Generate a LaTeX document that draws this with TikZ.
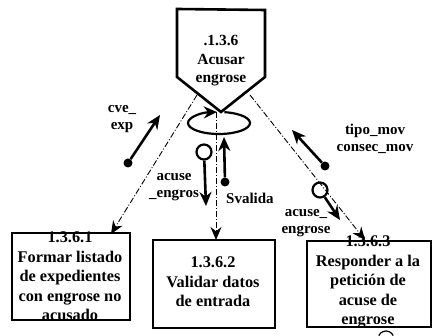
\documentclass[tikz,border=0pt]{standalone}
\usepackage{fontspec}
\setmainfont{Liberation Serif}
\usetikzlibrary{arrows.meta}
\begin{document}
\begin{tikzpicture}[x=1pt,y=-1pt,
 every node/.style={font=\fontsize{16.3}{19.5}\selectfont\bfseries},
 boxs/.style={draw, line width=2.4pt, inner sep=0},
 txt/.style={align=center, inner sep=0},
 dfl/.style={line width=0.9pt, dash pattern=on 6pt off 2pt on 1pt off 2pt, -{Stealth[length=13pt,width=11pt]}},
 flow/.style={line width=2.6pt, -{Stealth[length=14pt,width=12pt]}},
 lab/.style={align=center, inner sep=0, font=\fontsize{15}{17.5}\selectfont\bfseries},
 dotn/.style={circle, fill, inner sep=0, minimum size=9pt},
 ringn/.style={circle, draw, line width=2.2pt, inner sep=0, minimum size=15pt}]
\useasboundingbox (0,0) rectangle (434,336);
% top process (pentagon)
\coordinate (ptl) at (177,9);
\coordinate (ptr) at (265,10);
\coordinate (prr) at (265,77);
\coordinate (pb) at (221,112);
\coordinate (pll) at (177,77);
\draw[line width=2.6pt, line join=miter] (ptl) -- (ptr) -- (prr) -- (pb) -- (pll) -- cycle;
\node[txt, font=\fontsize{15.5}{18.5}\selectfont\bfseries] (pt) at (221,61) {.1.3.6\\Acusar\\engrose};
% boxes
\node[boxs, minimum width=118pt, minimum height=87pt] (b1) at (71,276.5) {};
\node[txt] (b1t) at (70,276.5) {1.3.6.1\\Formar listado\\de expedientes\\con engrose no\\acusado};
\node[boxs, minimum width=122pt, minimum height=88pt] (b2) at (214,284) {};
\node[txt] (b2t) at (213,282) {1.3.6.2\\Validar datos\\de entrada};
\node[boxs, minimum width=124pt, minimum height=86pt] (b3) at (369,284) {};
\node[txt] (b3t) at (368,282) {1.3.6.3\\Responder a la\\petición de\\acuse de\\engrose};
% dashed connectors
\coordinate (a1) at (197,95);
\coordinate (a1e) at (111,234);
\coordinate (a2) at (216,112);
\coordinate (a2e) at (216,240);
\coordinate (a3) at (250,95);
\coordinate (a3e) at (365,240);
\draw[dfl] (a1) -- (a1e);
\draw[dfl] (a2) -- (a2e);
\draw[dfl] (a3) -- (a3e);
% loop
\coordinate (lc) at (219,123);
\draw[line width=2.2pt, -{Stealth[length=13pt,width=12pt]}] ([shift={(-80:31 and 11)}]lc) arc[start angle=-80, end angle=266, x radius=31, y radius=11];
% flows
\node[dotn] (c1) at (128,163) {};
\coordinate (c1e) at (160,115);
\draw[flow] (c1) -- (c1e);
\node[lab] (c1l) at (122,119) {cve\_\\exp};
\node[ringn] (r1) at (204,152) {};
\coordinate (r1e) at (206,206);
\draw[flow] (r1) -- (r1e);
\node[lab] (r1l) at (174,187) {acuse\\\_engros};
\node[dotn] (d2) at (225,182) {};
\coordinate (d2e) at (224,137);
\draw[flow] (d2) -- (d2e);
\node[lab, anchor=west] (d2l) at (226,198) {Svalida};
\node[dotn] (d3) at (325,166) {};
\coordinate (d3e) at (292,130);
\draw[flow] (d3) -- (d3e);
\node[lab] (d3l) at (375,139) {tipo\_mov\\consec\_mov};
\node[ringn] (r2) at (320,190) {};
\coordinate (r2e) at (340,220);
\draw[flow] (r2) -- (r2e);
\node[lab] (r2l) at (306,223) {acuse\_\\engrose};
% partial mark under box 3
\coordinate (m) at (386,339);
\draw[line width=1.2pt] ([shift={(205:8)}]m) arc[start angle=205, end angle=335, radius=8];
\end{tikzpicture}
\end{document}
